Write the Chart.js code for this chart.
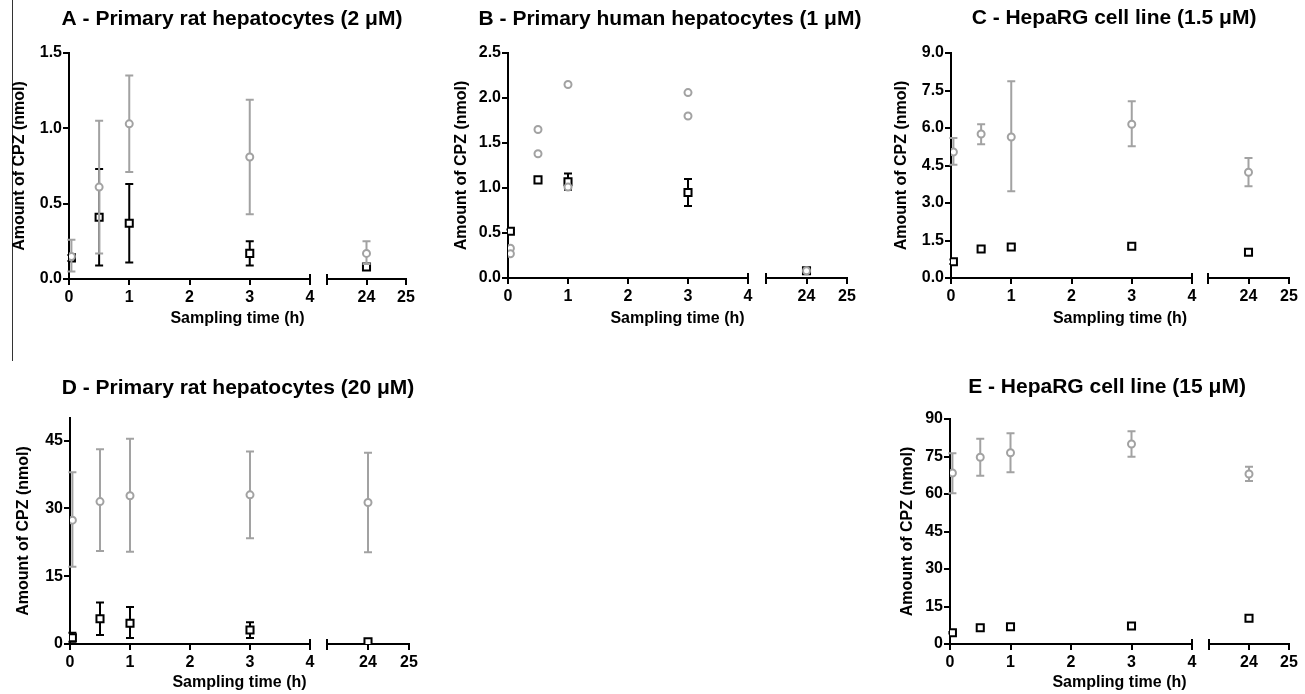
<!DOCTYPE html>
<html><head><meta charset="utf-8">
<script src="https://cdn.jsdelivr.net/npm/chart.js@4.4.1/dist/chart.umd.min.js"></script>
<style>
html,body{margin:0;padding:0;background:#fff;overflow:hidden;width:1305px;height:694px;position:relative;}
canvas{position:absolute;}
#edge{position:absolute;left:12px;top:0;width:1px;height:361px;background:#333;}
</style></head><body>
<div id="edge"></div>
<canvas id="cA" width="464" height="340" style="left:0px;top:0px"></canvas>
<canvas id="cB" width="460" height="340" style="left:440px;top:0px"></canvas>
<canvas id="cC" width="468" height="340" style="left:880px;top:0px"></canvas>
<canvas id="cD" width="476" height="354" style="left:0px;top:340px"></canvas>
<canvas id="cE" width="434" height="354" style="left:890px;top:340px"></canvas>
<script>
// ---------- data ----------
const TIMES = [0.04, 0.5, 1, 3, 24];
const X_EARLY_TICKS = [0, 1, 2, 3, 4];
const X_LATE_TICKS = [24, 25];
const X_LABEL = 'Sampling time (h)';
const Y_LABEL = 'Amount of CPZ (nmol)';

// A - Primary rat hepatocytes (2 µM)
const A_Y_TICKS = [0, 0.5, 1.0, 1.5];
const A_SQ_MEAN = [0.14, 0.41, 0.37, 0.17, 0.08];
const A_SQ_LOW  = [0.12, 0.09, 0.11, 0.09, 0.07];
const A_SQ_HIGH = [0.16, 0.73, 0.63, 0.25, 0.09];
const A_CI_MEAN = [0.15, 0.61, 1.03, 0.81, 0.17];
const A_CI_LOW  = [0.05, 0.17, 0.71, 0.43, 0.10];
const A_CI_HIGH = [0.26, 1.05, 1.35, 1.19, 0.25];

// B - Primary human hepatocytes (1 µM)
const B_Y_TICKS = [0, 0.5, 1.0, 1.5, 2.0, 2.5];
const B_SQ_MEAN = [0.52, 1.09, 1.07, 0.95, 0.08];
const B_SQ_LOW  = [0.50, 1.07, 0.98, 0.80, 0.08];
const B_SQ_HIGH = [0.54, 1.11, 1.16, 1.10, 0.08];
const B_CI_TIMES  = [0.04, 0.04, 0.5, 0.5, 1, 1, 3, 3, 24];
const B_CI_VALUES = [0.33, 0.27, 1.65, 1.38, 2.15, 1.01, 2.06, 1.80, 0.08];

// C - HepaRG cell line (1.5 µM)
const C_Y_TICKS = [0, 1.5, 3.0, 4.5, 6.0, 7.5, 9.0];
const C_SQ_MEAN = [0.65, 1.16, 1.24, 1.27, 1.03];
const C_SQ_LOW  = [0.56, 1.10, 1.18, 1.21, 0.98];
const C_SQ_HIGH = [0.74, 1.22, 1.30, 1.33, 1.08];
const C_CI_MEAN = [5.04, 5.76, 5.64, 6.15, 4.23];
const C_CI_LOW  = [4.53, 5.35, 3.47, 5.27, 3.67];
const C_CI_HIGH = [5.60, 6.15, 7.87, 7.07, 4.80];

// D - Primary rat hepatocytes (20 µM)
const D_Y_TICKS = [0, 15, 30, 45];
const D_SQ_MEAN = [1.4, 5.6, 4.6, 3.1, 0.5];
const D_SQ_LOW  = [0.5, 2.0, 1.3, 1.3, 0.3];
const D_SQ_HIGH = [2.5, 9.2, 8.2, 4.8, 0.7];
const D_CI_MEAN = [27.4, 31.5, 32.8, 33.0, 31.3];
const D_CI_LOW  = [17.1, 20.6, 20.4, 23.4, 20.3];
const D_CI_HIGH = [38.0, 43.1, 45.4, 42.6, 42.3];

// E - HepaRG cell line (15 µM)
const E_Y_TICKS = [0, 15, 30, 45, 60, 75, 90];
const E_SQ_MEAN = [4.5, 6.5, 6.9, 7.2, 10.3];
const E_SQ_LOW  = [4.2, 6.2, 6.6, 6.9, 9.5];
const E_SQ_HIGH = [4.8, 6.8, 7.2, 7.5, 11.1];
const E_CI_MEAN = [68.4, 74.7, 76.5, 80.0, 68.0];
const E_CI_LOW  = [60.3, 67.3, 68.7, 74.9, 65.2];
const E_CI_HIGH = [76.3, 82.1, 84.3, 85.1, 70.9];

// ---------- style ----------
const FONT = "'Liberation Sans', Arial, Helvetica, sans-serif";
const GREY = '#a2a2a2';
const XH = 26;
const TITLE_SIZE = 21;

function series(times, mean, low, high, kind) {
  const out = [];
  [false, true].forEach(late => {
    const idx = times.map((t, i) => i).filter(i => (times[i] >= 23) === late);
    if (!idx.length) return;
    const sq = kind === 'sq';
    out.push({
      xAxisID: late ? 'xb' : 'xa', yAxisID: 'y',
      data: idx.map(i => ({x: times[i], y: mean[i]})),
      errLow: low ? idx.map(i => low[i]) : null,
      errHigh: high ? idx.map(i => high[i]) : null,
      errColor: sq ? '#000' : GREY,
      order: sq ? 2 : 1,
      showLine: false,
      pointStyle: sq ? 'rect' : 'circle',
      pointRadius: sq ? 5 : 3.5,
      pointHoverRadius: sq ? 5 : 3.5,
      pointBorderWidth: 2,
      pointBorderColor: sq ? '#000' : GREY,
      pointBackgroundColor: '#fff',
      borderColor: sq ? '#000' : GREY,
      backgroundColor: '#fff'
    });
  });
  return out;
}

const errorBars = {
  id: 'errorBars',
  beforeDatasetDraw(chart, args) {
    const ds = chart.data.datasets[args.index];
    if (!ds.errLow) return;
    const xs = chart.scales[ds.xAxisID], ys = chart.scales[ds.yAxisID];
    const c = chart.ctx;
    c.save();
    c.strokeStyle = ds.errColor; c.lineWidth = 2;
    ds.data.forEach((p, j) => {
      const x = xs.getPixelForValue(p.x);
      const yl = ys.getPixelForValue(ds.errLow[j]);
      const yh = ys.getPixelForValue(ds.errHigh[j]);
      c.beginPath();
      c.moveTo(x, yl); c.lineTo(x, yh);
      c.moveTo(x - 4, yl); c.lineTo(x + 4, yl);
      c.moveTo(x - 4, yh); c.lineTo(x + 4, yh);
      c.stroke();
    });
    c.restore();
  }
};

const axisBreak = {
  id: 'axisBreak',
  afterDraw(chart) {
    const a = chart.scales.xa, b = chart.scales.xb, c = chart.ctx;
    const y = chart.chartArea.bottom;
    c.save(); c.strokeStyle = '#000'; c.lineWidth = 2;
    [a.getPixelForValue(a.max), b.getPixelForValue(b.min)].forEach(x => {
      c.beginPath(); c.moveTo(x, y - 5); c.lineTo(x, y + 6); c.stroke();
    });
    c.restore();
  }
};

function xAxis(min, max, ticks, w) {
  return {
    type: 'linear', axis: 'x', position: 'bottom', stack: 'time', stackWeight: w,
    min, max,
    afterBuildTicks: s => { s.ticks = ticks.map(v => ({value: v})); },
    afterFit: s => { s.height = XH; },
    border: {display: true, color: '#000', width: 2},
    grid: {display: true, drawOnChartArea: false, drawTicks: true, tickLength: 6, tickWidth: 2, lineWidth: 2, color: '#000', tickColor: '#000'},
    ticks: {color: '#000', font: {family: FONT, size: 16, weight: 'bold', lineHeight: 1.1}, padding: 4, maxRotation: 0, autoSkip: false, callback: v => String(v)}
  };
}

function build(P) {
  const lh = TITLE_SIZE * 1.2, slh = 16 * 1.2;
  const subTop = P.xTitleMid - (P.B + XH) - slh / 2;
  const subBottom = P.H - (P.B + XH) - subTop - slh;
  new Chart(document.getElementById(P.id), {
    type: 'scatter',
    data: {datasets: P.sets},
    options: {
      responsive: false, animation: false, devicePixelRatio: 1,
      layout: {padding: 0},
      plugins: {
        legend: {display: false}, tooltip: {enabled: false},
        title: {display: true, text: P.title, color: '#000', fullSize: true,
          font: {family: FONT, size: TITLE_SIZE, weight: 'bold', lineHeight: 1.2},
          padding: {top: P.titleMid - lh / 2, bottom: P.T - P.titleMid - lh / 2}},
        subtitle: {display: true, position: 'bottom', text: X_LABEL, color: '#000', fullSize: false,
          font: {family: FONT, size: 16, weight: 'bold', lineHeight: 1.2},
          padding: {top: subTop, bottom: subBottom}}
      },
      scales: {
        y: {
          type: 'linear', axis: 'y', position: 'left', min: 0, max: P.yMax,
          afterBuildTicks: s => { s.ticks = P.yTicks.map(v => ({value: v})); },
          afterFit: s => { s.width = P.L; },
          border: {display: true, color: '#000', width: 2},
          grid: {display: true, drawOnChartArea: false, drawTicks: true, tickLength: 6, tickWidth: 2, lineWidth: 2, color: '#000', tickColor: '#000'},
          ticks: {color: '#000', font: {family: FONT, size: 16, weight: 'bold'}, padding: 1, callback: v => Number(v).toFixed(P.dec)},
          title: {display: true, text: Y_LABEL, color: '#000',
            font: {family: FONT, size: 16, weight: 'bold', lineHeight: 1.2},
            padding: {top: P.yTitleX - slh / 2, bottom: 0}}
        },
        yr: {
          type: 'linear', axis: 'y', position: 'right', min: 0, max: 1,
          afterFit: s => { s.width = P.W - P.R; },
          grid: {display: false}, border: {display: false}, ticks: {display: false}
        },
        xa: xAxis(0, 4, X_EARLY_TICKS, P.gap[0]),
        xg: {
          type: 'linear', axis: 'x', position: 'bottom', stack: 'time', stackWeight: P.gap[1], min: 0, max: 1,
          afterFit: s => { s.height = XH; },
          grid: {display: false}, border: {display: false}, ticks: {display: false}
        },
        xb: xAxis(23, 25, X_LATE_TICKS, P.gap[2])
      }
    },
    plugins: [errorBars, axisBreak]
  });
}

const PANELS = [
  {id: 'cA', W: 464, H: 340, L: 69, R: 406, T: 53, B: 279, titleMid: 19.5, yTitleX: 20, xTitleMid: 319, gap: [241, 17, 79],
   title: 'A - Primary rat hepatocytes (2 μM)', yMax: 1.5, yTicks: A_Y_TICKS, dec: 1,
   sets: [...series(TIMES, A_SQ_MEAN, A_SQ_LOW, A_SQ_HIGH, 'sq'), ...series(TIMES, A_CI_MEAN, A_CI_LOW, A_CI_HIGH, 'ci')]},
  {id: 'cB', W: 460, H: 340, L: 68, R: 407, T: 53, B: 278, titleMid: 19.5, yTitleX: 22, xTitleMid: 318.3, gap: [240, 18, 81],
   title: 'B - Primary human hepatocytes (1 μM)', yMax: 2.5, yTicks: B_Y_TICKS, dec: 1,
   sets: [...series(TIMES, B_SQ_MEAN, B_SQ_LOW, B_SQ_HIGH, 'sq'), ...series(B_CI_TIMES, B_CI_VALUES, null, null, 'ci')]},
  {id: 'cC', W: 468, H: 340, L: 71, R: 409, T: 53, B: 278, titleMid: 18, yTitleX: 22, xTitleMid: 318.3, gap: [241, 16, 81],
   title: 'C - HepaRG cell line (1.5 μM)', yMax: 9, yTicks: C_Y_TICKS, dec: 1,
   sets: [...series(TIMES, C_SQ_MEAN, C_SQ_LOW, C_SQ_HIGH, 'sq'), ...series(TIMES, C_CI_MEAN, C_CI_LOW, C_CI_HIGH, 'ci')]},
  {id: 'cD', W: 476, H: 354, L: 70, R: 409, T: 78, B: 304, titleMid: 48.7, yTitleX: 24, xTitleMid: 342.5, gap: [240, 17, 82],
   title: 'D - Primary rat hepatocytes (20 μM)', yMax: 50, yTicks: D_Y_TICKS, dec: 0,
   sets: [...series(TIMES, D_SQ_MEAN, D_SQ_LOW, D_SQ_HIGH, 'sq'), ...series(TIMES, D_CI_MEAN, D_CI_LOW, D_CI_HIGH, 'ci')]},
  {id: 'cE', W: 434, H: 354, L: 60, R: 399, T: 79, B: 304, titleMid: 47.5, yTitleX: 18, xTitleMid: 342.5, gap: [242, 17, 80],
   title: 'E - HepaRG cell line (15 μM)', yMax: 90, yTicks: E_Y_TICKS, dec: 0,
   sets: [...series(TIMES, E_SQ_MEAN, E_SQ_LOW, E_SQ_HIGH, 'sq'), ...series(TIMES, E_CI_MEAN, E_CI_LOW, E_CI_HIGH, 'ci')]}
];
PANELS.forEach(build);
</script>
</body></html>
